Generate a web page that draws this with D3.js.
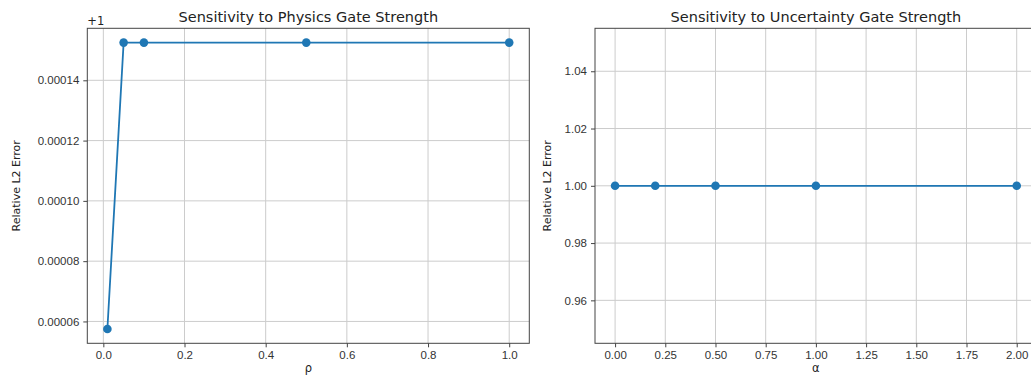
<!DOCTYPE html>
<html>
<head>
<meta charset="utf-8">
<script src="https://cdn.jsdelivr.net/npm/d3@7"></script>
<style>
  body { margin: 0; background: #fff; }
  svg { display: block; font-family: "DejaVu Sans", sans-serif; }
  .grid line { stroke: #cccccc; stroke-width: 1; }
  .axis path, .axis line { stroke: #444; }
  .axis text { fill: #333; font-size: 11.5px; }
</style>
</head>
<body>
<script>
// physics gate sweep (rho) and uncertainty gate sweep (alpha)
var rhoValues = [0.01, 0.05, 0.1, 0.5, 1.0];
var rhoErrors = [1.0000575, 1.0001525, 1.0001525, 1.0001525, 1.0001525];
var alphaValues = [0.0, 0.2, 0.5, 1.0, 2.0];
var alphaErrors = [1.0, 1.0, 1.0, 1.0, 1.0];

var rhoTicks = [0, 0.2, 0.4, 0.6, 0.8, 1.0];
var rhoYTicks = [0.00006, 0.00008, 0.00010, 0.00012, 0.00014]; // shown with +1 offset
var alphaTicks = [0, 0.25, 0.5, 0.75, 1.0, 1.25, 1.5, 1.75, 2.0];
var alphaYTicks = [0.96, 0.98, 1.00, 1.02, 1.04];

var width = 1031, height = 375;
var blue = "#1f77b4";

var svg = d3.select("body").append("svg")
    .attr("width", width)
    .attr("height", height);

// matplotlib style 5% padding
function pad(ext){
  var lo = ext[0], hi = ext[1];
  if (lo === hi) { lo = lo - 0.05 * Math.abs(lo); hi = hi + 0.05 * Math.abs(hi); }
  var m = (hi - lo) * 0.05;
  return [lo - m, hi + m];
}

function drawPanel(opt){
  var g = svg.append("g");
  var x = d3.scaleLinear().domain(pad(d3.extent(opt.xs))).range([opt.left, opt.right]);
  var y = d3.scaleLinear().domain(pad(d3.extent(opt.ys))).range([opt.bottom, opt.top]);

  g.append("defs").append("clipPath").attr("id", opt.id)
    .append("rect")
    .attr("x", opt.left).attr("y", opt.top)
    .attr("width", opt.right - opt.left).attr("height", opt.bottom - opt.top);

  var grid = g.append("g").attr("class", "grid");
  grid.selectAll(".gx").data(opt.xTicks).enter().append("line")
    .attr("x1", d => x(d)).attr("x2", d => x(d))
    .attr("y1", opt.top).attr("y2", opt.bottom);
  grid.selectAll(".gy").data(opt.yTicks).enter().append("line")
    .attr("x1", opt.left).attr("x2", opt.right)
    .attr("y1", d => y(d + opt.offset)).attr("y2", d => y(d + opt.offset));

  // frame
  g.append("rect")
    .attr("x", opt.left).attr("y", opt.top)
    .attr("width", opt.right - opt.left).attr("height", opt.bottom - opt.top)
    .attr("fill", "none").attr("stroke", "#444").attr("stroke-width", 1);

  var xAxis = d3.axisBottom(x).tickValues(opt.xTicks).tickFormat(opt.xFmt).tickSizeOuter(0).tickSize(4).tickPadding(4);
  g.append("g").attr("class", "axis")
    .attr("transform", "translate(0," + opt.bottom + ")")
    .call(xAxis)
    .call(s => s.select(".domain").remove());

  var yAxis = d3.axisLeft(y)
    .tickValues(opt.yTicks.map(d => d + opt.offset))
    .tickFormat(d => opt.yFmt(d - opt.offset))
    .tickSizeOuter(0).tickSize(4).tickPadding(4);
  g.append("g").attr("class", "axis")
    .attr("transform", "translate(" + opt.left + ",0)")
    .call(yAxis)
    .call(s => s.select(".domain").remove());

  var line = d3.line().x(d => x(d[0])).y(d => y(d[1]));
  var pts = opt.xs.map((v, i) => [v, opt.ys[i]]);
  var plot = g.append("g").attr("clip-path", "url(#" + opt.id + ")");
  plot.append("path").datum(pts)
    .attr("d", line).attr("fill", "none")
    .attr("stroke", blue).attr("stroke-width", 1.8);
  plot.selectAll("circle").data(pts).enter().append("circle")
    .attr("cx", d => x(d[0])).attr("cy", d => y(d[1]))
    .attr("r", 4.3).attr("fill", blue);

  g.append("text")
    .attr("x", (opt.left + opt.right) / 2).attr("y", 22)
    .attr("text-anchor", "middle").attr("font-size", 14.5).attr("fill", "#222")
    .text(opt.title);
  g.append("text")
    .attr("transform", "translate(" + opt.ylabX + "," + ((opt.top + opt.bottom) / 2) + ") rotate(-90)")
    .attr("text-anchor", "middle").attr("font-size", 11).attr("fill", "#222")
    .text("Relative L2 Error");
  g.append("text")
    .attr("x", (opt.left + opt.right) / 2).attr("y", 371.5)
    .attr("text-anchor", "middle").attr("font-size", 11.5).attr("fill", "#222")
    .text(opt.xlabel);
  if (opt.offsetText) {
    g.append("text")
      .attr("x", opt.left).attr("y", 25)
      .attr("font-size", 11.5).attr("fill", "#222")
      .text(opt.offsetText);
  }
}

drawPanel({
  id: "clipL", xs: rhoValues, ys: rhoErrors,
  left: 87.3, right: 529.3, top: 28.3, bottom: 343.3,
  xTicks: rhoTicks, yTicks: rhoYTicks, offset: 1,
  xFmt: d3.format(".1f"), yFmt: d3.format(".5f"),
  title: "Sensitivity to Physics Gate Strength", xlabel: "ρ",
  ylabX: 20, offsetText: "+1"
});

drawPanel({
  id: "clipR", xs: alphaValues, ys: alphaErrors,
  left: 595, right: 1036.8, top: 28.3, bottom: 343.3,
  xTicks: alphaTicks, yTicks: alphaYTicks, offset: 0,
  xFmt: d3.format(".2f"), yFmt: d3.format(".2f"),
  title: "Sensitivity to Uncertainty Gate Strength", xlabel: "α",
  ylabX: 551
});
</script>
</body>
</html>
